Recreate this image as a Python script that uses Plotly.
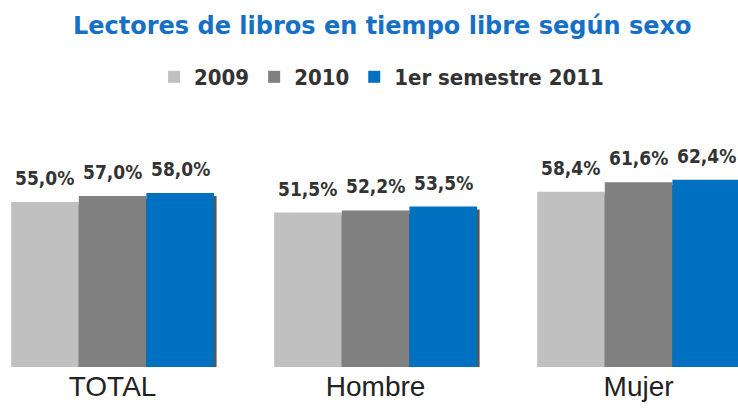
import plotly.graph_objects as go

categories = ["TOTAL", "Hombre", "Mujer"]
series_names = ["2009", "2010", "1er semestre 2011"]
values_2009 = [55.0, 51.5, 58.4]
values_2010 = [57.0, 52.2, 61.6]
values_2011 = [58.0, 53.5, 62.4]
colors = ["#c0c0c0", "#808080", "#0070c0"]

series = [values_2009, values_2010, values_2011]
xidx = list(range(len(categories)))

bar_w = 0.257
offsets = [-1.5 * bar_w, -0.5 * bar_w, 0.5 * bar_w]
shadow_dx = 0.010   # ~3 px
shadow_dy = 1.0     # ~3 px

cond_family = "DejaVu Sans Condensed, Liberation Sans Narrow, Arial Narrow, DejaVu Sans, sans-serif"
label_font = dict(family=cond_family, size=19, color="#333333", weight="bold")

fig = go.Figure()

# shadows
for vals, off in zip(series, offsets):
    fig.add_trace(go.Bar(
        x=xidx, y=vals, base=[-shadow_dy] * len(vals), width=bar_w,
        offset=off + shadow_dx, marker=dict(color="rgba(30,30,30,0.75)", line=dict(width=0)),
        showlegend=False, hoverinfo="skip"))

# main bars
for name, vals, off, col in zip(series_names, series, offsets, colors):
    fig.add_trace(go.Bar(
        x=xidx, y=vals, name=name, width=bar_w, offset=off,
        marker=dict(color=col, line=dict(width=0))))

annotations = []
for vals, off in zip(series, offsets):
    for i, v in zip(xidx, vals):
        annotations.append(dict(
            x=i + off + bar_w / 2, y=v, xref="x", yref="y",
            text=f"{v:.1f}".replace(".", ",") + "%",
            showarrow=False, yanchor="bottom", yshift=11,
            font=label_font))

fig.update_layout(
    width=738, height=410,
    margin=dict(l=0, r=0, t=130, b=43),
    paper_bgcolor="white", plot_bgcolor="white",
    barmode="overlay",
    title=dict(text="<b>Lectores de libros en tiempo libre según sexo</b>",
               x=0.518, xanchor="center", y=1 - 26 / 410, yanchor="middle",
               yref="container",
               font=dict(family="DejaVu Sans", size=24, color="#1570c6")),
    legend=dict(orientation="h", x=0.517, xanchor="center", y=1 - 77 / 410,
                yanchor="middle", yref="container",
                font=dict(family=cond_family, size=22, color="#333333", weight="bold"),
                itemwidth=30, entrywidth=0),
    xaxis=dict(range=[-0.428, 2.378], tickvals=xidx, ticktext=categories,
               showgrid=False, zeroline=False, showline=False, ticks="",
               tickfont=dict(family="Liberation Sans, Arial, sans-serif", size=28, color="#222222")),
    yaxis=dict(range=[0, 79], visible=False, showgrid=False, zeroline=False),
    annotations=annotations,
    showlegend=True,
)

fig.write_html("out.html")
